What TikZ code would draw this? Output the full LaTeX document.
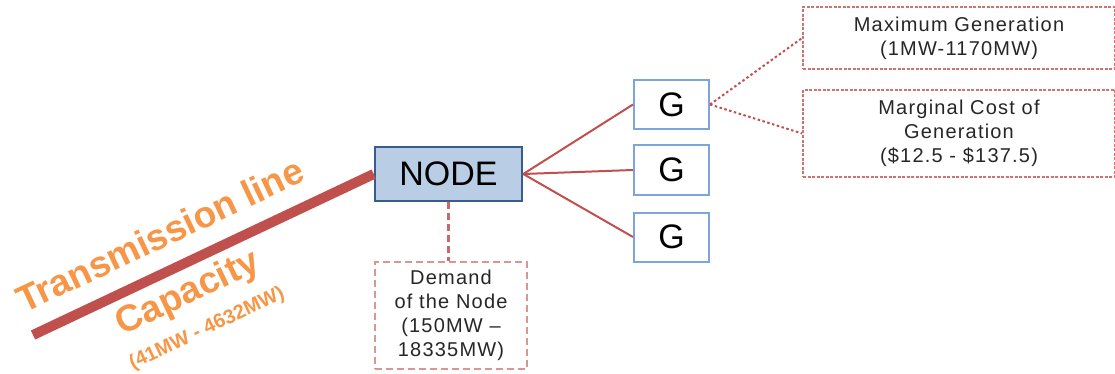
\documentclass[tikz,border=0pt]{standalone}
\usepackage{xcolor}
\usepackage{fontspec}
\setmainfont{Liberation Sans}
\usepackage{tikz}
\usetikzlibrary{positioning}
\definecolor{lineRed}{HTML}{C0504D}
\definecolor{boxRed}{HTML}{D99694}
\definecolor{nodeBlue}{HTML}{B9CDE5}
\definecolor{nodeBorder}{HTML}{385D8A}
\definecolor{genBorder}{HTML}{7BA5DC}
\definecolor{labelOrange}{HTML}{F79646}
\tikzset{main-node/.style={draw=nodeBorder, fill=nodeBlue, line width=2.5pt, inner sep=0,
    minimum width=147pt, minimum height=54pt, font=\fontsize{34}{34}\selectfont}}
\tikzset{gen-node/.style={draw=genBorder, fill=white, line width=2pt, inner sep=0,
    minimum width=75pt, minimum height=49pt, font=\fontsize{34}{34}\selectfont}}
\tikzset{info-box/.style={draw=boxRed, line width=1.8pt, inner sep=0, align=center,
    text=black!85, font=\fontsize{20}{24}\selectfont\addfontfeatures{LetterSpace=6}}}
\tikzset{fine-dash/.style={dash pattern=on 3pt off 1.5pt}}
\tikzset{wide-dash/.style={dash pattern=on 7pt off 4pt}}
\tikzset{gen-line/.style={draw=lineRed, line width=2pt}}
\tikzset{info-line/.style={draw=lineRed, line width=2pt, dash pattern=on 2.5pt off 2.5pt}}
\tikzset{line-label/.style={text=labelOrange, rotate=25.3, font=\bfseries\fontsize{37}{37}\selectfont}}

\begin{document}
\begin{tikzpicture}[x=1pt, y=-1pt]
    \useasboundingbox (0,0) rectangle (1115,374);

    \node[main-node] (node) at (448.5,174) {NODE};

    \node[gen-node] (gen1) at (671.5,104.5) {G};
    \node[gen-node] (gen2) at (671.5,170) {G};
    \node[gen-node] (gen3) at (671.5,237) {G};

    \node[info-box, fine-dash, draw=lineRed!80, minimum width=312pt, minimum height=62pt]
        (maxgen) at (959,38) {Maximum Generation\\(1MW-1170MW)};
    \node[info-box, fine-dash, draw=lineRed!80, minimum width=312pt, minimum height=87pt]
        (cost) at (959,133.5) {Marginal Cost of\\Generation\\(\$12.5 - \$137.5)};
    \node[info-box, wide-dash, line width=2.2pt, minimum width=152pt, minimum height=107pt]
        (demand) at (451,315.5) {Demand\\of the Node\\(150MW --\\18335MW)};

    \draw[gen-line] (node.east) -- (gen1.west);
    \draw[gen-line] (node.east) -- (gen2.west);
    \draw[gen-line] (node.east) -- (gen3.west);

    \draw[info-line] (gen1.east) -- (maxgen.west);
    \draw[info-line] (gen1.east) -- (cost.west);
    \draw[draw=lineRed!85, line width=2.5pt, wide-dash] (node.south) -- (node.south |- demand.north);

    % transmission line
    \coordinate (line-start) at (33,335);
    \draw[lineRed, line width=10pt] (line-start) -- (node.west);
    \node[line-label] (trans) at (160,235) {Transmission line};
    \node[line-label] (capacity) at (188,294) {Capacity};
    \node[line-label, font=\bfseries\fontsize{20}{20}\selectfont] (range) at (207,329) {(41MW - 4632MW)};
\end{tikzpicture}
\end{document}
